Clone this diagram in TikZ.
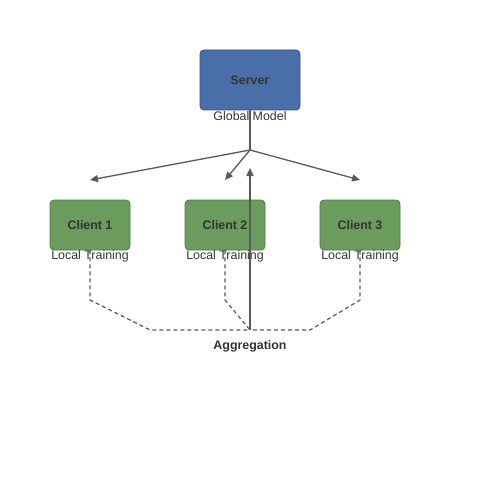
\documentclass[tikz,border=0pt]{standalone}
\usepackage{fontspec}
\setmainfont{Liberation Sans}
\usetikzlibrary{arrows.meta}
\definecolor{srvfill}{HTML}{4A6FA8}
\definecolor{srvdraw}{HTML}{34507A}
\definecolor{clifill}{HTML}{6A9C5E}
\definecolor{clidraw}{HTML}{4E7A44}
\definecolor{txt}{HTML}{333333}
\definecolor{ln}{HTML}{5A5A5A}
\begin{document}
\begin{tikzpicture}[x=1pt,y=-1pt,
  box/.style={draw, line width=0.8pt, rounded corners=4pt, inner sep=0pt, text=txt, font=\fontsize{12.4}{14}\selectfont\bfseries},
  srv/.style={box, fill=srvfill, draw=srvdraw, minimum width=100pt, minimum height=60pt},
  cli/.style={box, fill=clifill, draw=clidraw, minimum width=80pt, minimum height=50pt},
  lbl/.style={text=txt, inner sep=0pt, font=\fontsize{12.4}{14}\selectfont},
  blbl/.style={lbl, font=\fontsize{12.4}{14}\selectfont\bfseries},
  arr/.style={draw=ln, line width=1.3pt, -{Triangle[length=8pt,width=7pt]}},
  dsh/.style={draw=ln, line width=1.2pt, dash pattern=on 4pt off 3pt}]
\useasboundingbox (0,0) rectangle (500,500);
\node[srv] (server) at (250,80) {\raisebox{-1pt}{Server}};
\node[lbl] (gm) at (250,116.5) {Global Model};
\node[cli] (c1) at (90,225) {\raisebox{-1pt}{Client 1}};
\node[cli] (c2) at (225,225) {\raisebox{-1pt}{Client 2}};
\node[cli] (c3) at (360,225) {\raisebox{-1pt}{Client 3}};
\node[lbl] (l1) at (90,256.5) {Local Training};
\node[lbl] (l2) at (225,256.5) {Local Training};
\node[lbl] (l3) at (360,256.5) {Local Training};
\node[blbl] (agg) at (250,346.5) {Aggregation};
\coordinate (hub) at (250,150);
\coordinate (t1) at (90,180);
\coordinate (t2) at (225,180);
\coordinate (t3) at (360,180);
\coordinate (aggpt) at (250,330);
\coordinate (up) at (250,168);
\draw[dsh] (c1.south) -- (90,300) -- (150,330) -- (aggpt);
\draw[dsh] (c2.south) -- (225,300) -- (aggpt);
\draw[dsh] (c3.south) -- (360,300) -- (310,330) -- (aggpt);
\draw[draw=ln, line width=1.4pt] (server.south) -- (hub);
\draw[arr] (hub) -- (t1);
\draw[arr] (hub) -- (t2);
\draw[arr] (hub) -- (t3);
\draw[arr] (aggpt) -- (up);
\end{tikzpicture}
\end{document}
